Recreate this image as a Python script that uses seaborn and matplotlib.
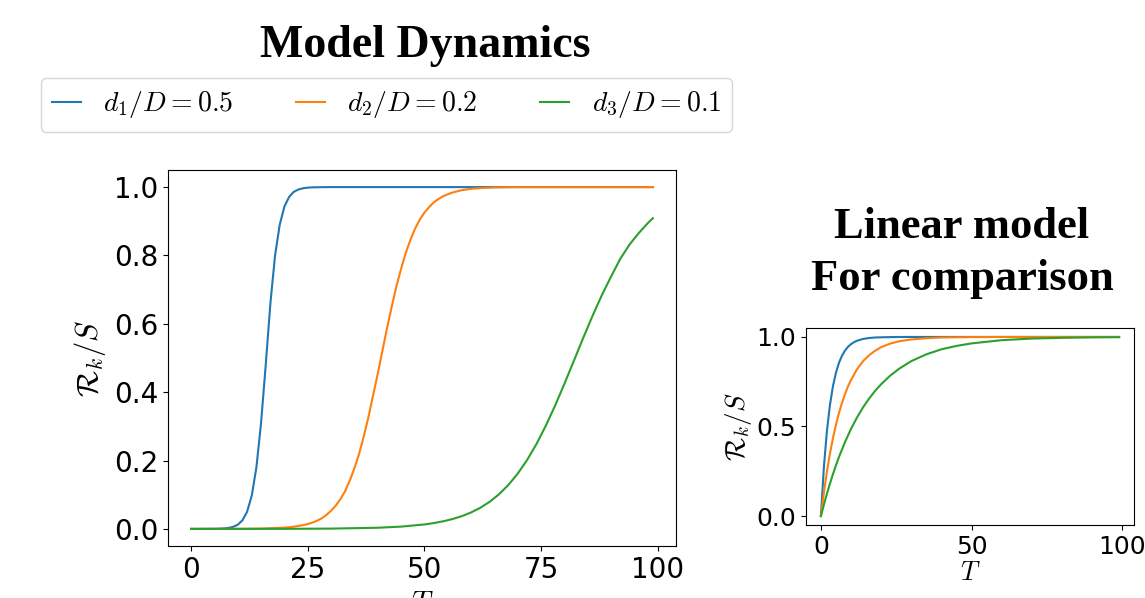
import numpy as np
import pandas as pd
import matplotlib
matplotlib.use("Agg")
import matplotlib.pyplot as plt
import seaborn as sns

# ---------------- data ----------------
series_labels = [r"$d_1/D = 0.5$", r"$d_2/D = 0.2$", r"$d_3/D = 0.1$"]
series_colors = ["#1f77b4", "#ff7f0e", "#2ca02c"]

# Left panel: model dynamics
model_T_1 = [0, 5, 6, 7, 8, 9, 10, 11, 12, 13, 14, 15, 16, 17, 18, 19, 20, 21, 22, 23,
             24, 25, 26, 28, 30, 99]
model_R_1 = [0.0, 0.0003, 0.0007, 0.0014, 0.0029, 0.006, 0.0122, 0.025, 0.05, 0.097,
             0.18, 0.31, 0.48, 0.66, 0.80, 0.89, 0.943, 0.971, 0.986, 0.993, 0.9966,
             0.9984, 0.9992, 0.9998, 1.0, 1.0]

model_T_2 = [0, 10, 15, 20, 22, 24, 25, 26, 27, 28, 29, 30, 31, 32, 33, 34, 35, 36, 37,
             38, 39, 40, 41, 42, 43, 44, 45, 46, 47, 48, 49, 50, 51, 52, 53, 54, 55,
             56, 58, 60, 62, 65, 70, 99]
model_R_2 = [0.0, 0.0003, 0.001, 0.0037, 0.0064, 0.011, 0.0142, 0.0185, 0.024, 0.031,
             0.041, 0.053, 0.068, 0.087, 0.11, 0.141, 0.177, 0.219, 0.27, 0.326, 0.39,
             0.453, 0.52, 0.587, 0.65, 0.709, 0.76, 0.807, 0.845, 0.878, 0.904, 0.925,
             0.941, 0.955, 0.965, 0.973, 0.979, 0.984, 0.991, 0.995, 0.997, 0.999, 1.0, 1.0]

model_T_3 = [0, 20, 30, 40, 45, 50, 52, 54, 56, 58, 60, 62, 64, 66, 68, 70, 72, 74, 76,
             78, 80, 82, 84, 86, 88, 90, 92, 94, 96, 98, 99]
model_R_3 = [0.0, 0.0002, 0.0009, 0.0034, 0.0067, 0.013, 0.017, 0.0221, 0.0287, 0.0371,
             0.048, 0.0618, 0.0793, 0.1012, 0.1283, 0.1614, 0.201, 0.2474, 0.3007,
             0.3598, 0.4236, 0.49, 0.5568, 0.6215, 0.6822, 0.7374, 0.79, 0.832, 0.866,
             0.896, 0.909]

# Right panel: linear model for comparison
lin_T_1 = [0, 1, 2, 3, 4, 5, 6, 7, 8, 9, 10, 11, 12, 14, 16, 18, 20, 25, 30, 99]
lin_R_1 = [0.0, 0.276, 0.476, 0.62, 0.725, 0.801, 0.856, 0.895, 0.924, 0.945, 0.96,
           0.971, 0.979, 0.989, 0.994, 0.997, 0.998, 0.9997, 1.0, 1.0]

lin_T_2 = [0, 1, 2, 3, 4, 5, 6, 7, 8, 9, 10, 12, 14, 16, 18, 20, 23, 26, 30, 35, 40,
           50, 60, 99]
lin_R_2 = [0.0, 0.133, 0.249, 0.349, 0.435, 0.51, 0.576, 0.632, 0.681, 0.724, 0.76,
           0.82, 0.865, 0.898, 0.923, 0.943, 0.963, 0.976, 0.986, 0.993, 0.997, 0.999,
           1.0, 1.0]

lin_T_3 = [0, 1, 2, 3, 4, 5, 6, 8, 10, 12, 14, 16, 18, 20, 23, 26, 30, 35, 40, 45, 50,
           60, 70, 80, 90, 99]
lin_R_3 = [0.0, 0.064, 0.125, 0.181, 0.234, 0.283, 0.33, 0.413, 0.487, 0.551, 0.607,
           0.656, 0.699, 0.736, 0.784, 0.823, 0.865, 0.903, 0.931, 0.95, 0.964, 0.982,
           0.991, 0.995, 0.9975, 0.9986]

left_xticks = [0, 25, 50, 75, 100]
left_yticks = [0.0, 0.2, 0.4, 0.6, 0.8, 1.0]
right_xticks = [0, 50, 100]
right_yticks = [0.0, 0.5, 1.0]

main_title = "Model Dynamics"
side_title = "Linear model\nFor comparison"
ylabel = r"$\mathcal{R}_k/S$"
xlabel = r"$T$"

# ---------------- figure ----------------
plt.rcParams["mathtext.fontset"] = "cm"

W, H = 1145, 598
fig = plt.figure(figsize=(W / 100, H / 100), dpi=100)
ax1 = fig.add_axes([168 / W, 1 - 546 / H, 508 / W, 376 / H])
ax2 = fig.add_axes([806 / W, 1 - 525 / H, 328 / W, 197 / H])

left_sets = [(model_T_1, model_R_1), (model_T_2, model_R_2), (model_T_3, model_R_3)]
right_sets = [(lin_T_1, lin_R_1), (lin_T_2, lin_R_2), (lin_T_3, lin_R_3)]

for (T, R), lab, col in zip(left_sets, series_labels, series_colors):
    df = pd.DataFrame({"T": T, "R": R})
    sns.lineplot(data=df, x="T", y="R", ax=ax1, color=col, label=lab,
                 linewidth=1.5, legend=False, estimator=None)
for (T, R), lab, col in zip(right_sets, series_labels, series_colors):
    df = pd.DataFrame({"T": T, "R": R})
    sns.lineplot(data=df, x="T", y="R", ax=ax2, color=col, label=lab,
                 linewidth=1.5, legend=False, estimator=None)

ax1.set_xticks(left_xticks)
ax1.set_yticks(left_yticks)
ax1.tick_params(labelsize=20)
ax1.set_xlabel(xlabel, fontsize=21)
ax1.set_ylabel(ylabel, fontsize=22)

ax2.set_xticks(right_xticks)
ax2.set_yticks(right_yticks)
ax2.tick_params(labelsize=18)
ax2.set_xlabel(xlabel, fontsize=19, labelpad=1)
ax2.set_ylabel(ylabel, fontsize=19.5, labelpad=2)

for ax in (ax1, ax2):
    ax.margins(x=0.05, y=0.05)

handles, labels = ax1.get_legend_handles_labels()
fig.legend(handles, labels, loc="center", bbox_to_anchor=(386.5 / W, 1 - 105 / H),
           ncol=3, fontsize=20, handlelength=1.05, handletextpad=0.8,
           columnspacing=2.25, frameon=True)

fig.text(425 / W, 1 - 57 / H, main_title, ha="center", va="baseline",
         fontsize=33, fontweight="bold", family="Liberation Serif")
fig.text(962 / W, 1 - 290 / H, side_title, ha="center", va="baseline",
         fontsize=32, fontweight="bold", family="Liberation Serif", linespacing=1.4)

fig.savefig("out.png", dpi=100)
